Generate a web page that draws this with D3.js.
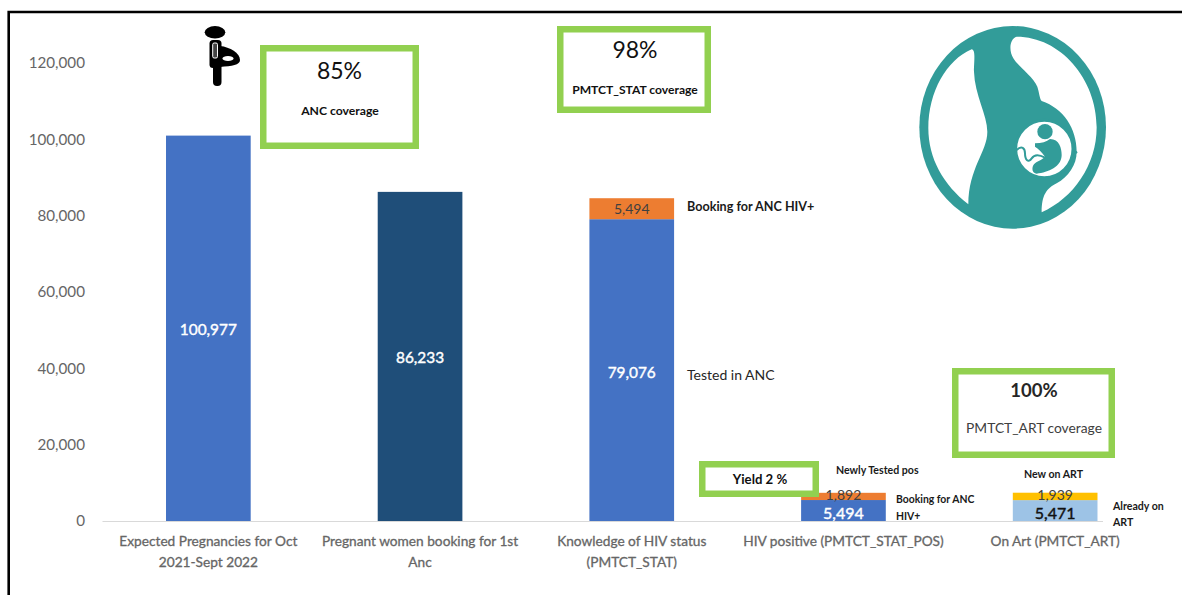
<!DOCTYPE html>
<html>
<head>
<meta charset="utf-8">
<style>
  html, body { margin: 0; padding: 0; background: #fff; }
  svg { display: block; font-family: Lato, "Open Sans", sans-serif; }
</style>
<script src="https://cdn.jsdelivr.net/npm/d3@7/dist/d3.min.js"></script>
</head>
<body>
<svg id="chart" width="1182" height="595"></svg>
<script>
// PMTCT cascade, Oct 2021 - Sept 2022
const categories = [
  "Expected Pregnancies for Oct|2021-Sept 2022",
  "Pregnant women booking for 1st|Anc",
  "Knowledge of HIV status|(PMTCT_STAT)",
  "HIV positive (PMTCT_STAT_POS)",
  "On Art (PMTCT_ART)"
];
const baseValues = [100977, 86233, 79076, 5494, 5471];
const topValues = [0, 0, 5494, 1892, 1939];
const baseFills = ["#4472C4", "#1F4E79", "#4472C4", "#4472C4", "#9DC3E6"];
const topFills = ["none", "none", "#ED7D31", "#ED7D31", "#FFC000"];
const yTicks = [0, 20000, 40000, 60000, 80000, 100000, 120000];

const svg = d3.select("#chart");
const fmt = d3.format(",");

const x = d3.scaleBand()
  .domain(categories)
  .range([102.5, 1161])
  .paddingInner(0.6)
  .paddingOuter(0.3);
const y = d3.scaleLinear().domain([0, 120000]).range([521, 63]);

// Outer frame: only the top and left edges are drawn
svg.append("path")
  .attr("d", "M8.7 595V12H1182")
  .attr("fill", "none")
  .attr("stroke", "#000")
  .attr("stroke-width", 2.6);

// Value axis
const yAxis = svg.append("g")
  .attr("transform", "translate(85,0)")
  .call(d3.axisLeft(y).tickValues(yTicks).tickSize(0).tickPadding(0).tickFormat(fmt));
yAxis.select(".domain").remove();
yAxis.selectAll("text")
  .attr("font-family", "Lato")
  .attr("font-size", 15.2)
  .attr("fill", "#666");

// Stacked bars
svg.append("g").selectAll("rect")
  .data(categories)
  .join("rect")
  .attr("x", d => x(d))
  .attr("width", x.bandwidth())
  .attr("y", (d, i) => y(baseValues[i]))
  .attr("height", (d, i) => y(0) - y(baseValues[i]))
  .attr("fill", (d, i) => baseFills[i]);

svg.append("g").selectAll("rect")
  .data(categories.filter((d, i) => topValues[i] > 0))
  .join("rect")
  .attr("x", d => x(d))
  .attr("width", x.bandwidth())
  .attr("y", d => { const i = categories.indexOf(d); return y(baseValues[i] + topValues[i]); })
  .attr("height", d => { const i = categories.indexOf(d); return y(0) - y(topValues[i]); })
  .attr("fill", d => topFills[categories.indexOf(d)]);

// Baseline, stopping just past the last bar
svg.append("line")
  .attr("x1", 102.5)
  .attr("x2", x(categories[4]) + x.bandwidth() + 5.5)
  .attr("y1", y(0) + 0.5)
  .attr("y2", y(0) + 0.5)
  .attr("stroke", "#D9D9D9")
  .attr("stroke-width", 1);

// Category axis with wrapped two-line labels
const xAxis = svg.append("g")
  .attr("transform", `translate(0,${y(0)})`)
  .call(d3.axisBottom(x).tickSize(0).tickPadding(0));
xAxis.select(".domain").remove();
xAxis.selectAll(".tick text")
  .attr("font-family", "Lato")
  .attr("font-size", 13.7)
  .attr("fill", "#666")
  .attr("stroke", "#666")
  .attr("stroke-width", 0.3)
  .each(function (d) {
    const t = d3.select(this).text("").attr("y", 0).attr("dy", null);
    d.split("|").forEach((line, k) => {
      t.append("tspan").attr("x", 0).attr("y", 25 + k * 21).text(line);
    });
  });

// Value labels inside the segments
function valueLabel(value, cx, cy, size, fill, heavy) {
  const t = svg.append("text")
    .attr("x", cx).attr("y", cy)
    .attr("text-anchor", "middle")
    .attr("dominant-baseline", "central")
    .attr("font-size", size)
    .attr("fill", fill)
    .text(fmt(value));
  if (heavy) t.attr("stroke", fill).attr("stroke-width", 0.4);
}
const mid = i => x(categories[i]) + x.bandwidth() / 2;
valueLabel(baseValues[0], mid(0), 329, 15.4, "#fff", true);
valueLabel(baseValues[1], mid(1), 357, 15.4, "#fff", true);
valueLabel(baseValues[2], mid(2), 372, 15.4, "#fff", true);
valueLabel(topValues[2], mid(2), 208.5, 14, "#404040");
valueLabel(baseValues[3], mid(3), 512.5, 16, "#fff", true);
valueLabel(topValues[3], mid(3), 494.5, 14, "#404040");
valueLabel(baseValues[4], mid(4), 512.5, 16, "#111", true);
valueLabel(topValues[4], mid(4), 494.5, 14, "#404040");

// Free-standing notes beside the bars
function note(str, nx, ny, size, weight, fill) {
  svg.append("text")
    .attr("x", nx).attr("y", ny)
    .attr("dominant-baseline", "central")
    .attr("font-size", size)
    .attr("font-weight", weight)
    .attr("fill", fill || "#1a1a1a")
    .text(str);
}
note("Booking for ANC HIV+", 687, 206, 12.6, 700);
note("Tested in ANC", 687, 374, 14, 400, "#262626");
note("Newly Tested pos", 836, 470, 10.6, 700);
note("Booking for ANC", 896, 499, 10.4, 700);
note("HIV+", 896, 516, 10.4, 700);
note("New on ART", 1024, 474, 10.6, 700);
note("Already on", 1113, 506, 10.6, 700);
note("ART", 1113, 522, 10.6, 700);

// Green coverage call-outs
function callout(x0, y0, x1, y1, sw) {
  svg.append("rect")
    .attr("x", x0 + sw / 2).attr("y", y0 + sw / 2)
    .attr("width", x1 - x0 - sw).attr("height", y1 - y0 - sw)
    .attr("fill", "#fff")
    .attr("stroke", "#92D050")
    .attr("stroke-width", sw);
}
function centred(str, cx, cy, size, weight, fill) {
  svg.append("text")
    .attr("x", cx).attr("y", cy)
    .attr("text-anchor", "middle")
    .attr("dominant-baseline", "central")
    .attr("font-size", size)
    .attr("font-weight", weight)
    .attr("fill", fill || "#111")
    .text(str);
}
callout(260, 45, 419, 149, 6.5);
centred("85%", 339.5, 69.5, 23, 400);
centred("ANC coverage", 340, 110, 12.2, 700);

callout(557, 26, 711, 113, 6.5);
centred("98%", 635, 48.5, 23, 400);
centred("PMTCT_STAT coverage", 635, 89, 12.1, 700);

callout(952, 368, 1115, 458, 6.5);
centred("100%", 1034, 390, 18.5, 700, "#262626");
centred("PMTCT_ART coverage", 1034, 427, 13.8, 400, "#404040");

callout(699, 461, 819, 497, 6.5);
centred("Yield 2 %", 760, 479, 13.2, 700);

// Syringe pictogram
const syringe = svg.append("g").attr("fill", "#000");
syringe.append("ellipse").attr("cx", 215).attr("cy", 32.3).attr("rx", 10.3).attr("ry", 6.2);
syringe.append("rect").attr("x", 209.5).attr("y", 40).attr("width", 12).attr("height", 28).attr("rx", 3.5);
syringe.append("rect").attr("x", 213).attr("y", 60).attr("width", 8.5).attr("height", 26).attr("rx", 4);
syringe.append("path").attr("d", "M220 46C230 47 240 53 240 60C240 65 232 66 220 67Z");
syringe.append("ellipse").attr("cx", 228).attr("cy", 58.5).attr("rx", 5.5).attr("ry", 2.6).attr("fill", "#fff");
syringe.append("rect").attr("x", 212.7).attr("y", 43).attr("width", 4.8).attr("height", 15)
  .attr("rx", 1.5).attr("fill", "#444").attr("stroke", "#fff").attr("stroke-width", 1);

// Pregnancy emblem, drawn at three times size and scaled down
const teal = "#329C99";
const emblem = svg.append("g").attr("transform", "translate(900,15) scale(0.33333)");
emblem.append("ellipse")
  .attr("cx", 338).attr("cy", 337).attr("rx", 280).attr("ry", 304)
  .attr("fill", teal);
emblem.append("path").attr("fill", "#fff")
  .attr("d", "M215 103C228 105 222 140 222 170C224 240 262 300 262 350C262 410 205 460 205 568C130 510 85 430 85 340C85 230 140 135 215 103Z");
emblem.append("path").attr("fill", "#fff")
  .attr("d", "M350 65C330 70 325 105 340 130C355 155 400 185 412 215C418 232 418 250 425 258C490 280 530 340 530 410C530 450 505 485 470 505C440 520 425 540 425 592C520 550 590 450 590 337C590 190 480 65 350 65Z");
emblem.append("circle").attr("cx", 433).attr("cy", 402).attr("r", 86).attr("fill", "#fff")
  .attr("stroke", teal).attr("stroke-width", 9);
emblem.append("circle").attr("cx", 528).attr("cy", 412).attr("r", 4).attr("fill", teal);
emblem.append("circle").attr("cx", 435).attr("cy", 350).attr("r", 23).attr("fill", teal);
emblem.append("path").attr("fill", teal)
  .attr("d", "M405 385C425 385 440 380 450 372C478 372 485 400 485 420C485 455 445 472 410 476C396 476 394 458 402 448C410 438 425 436 435 425C425 410 415 402 405 395Z");
emblem.append("path").attr("fill", "none").attr("stroke", teal).attr("stroke-width", 6)
  .attr("d", "M350 405C365 390 375 400 375 415C375 435 385 445 395 430C405 415 420 420 435 428");
</script>
</body>
</html>
